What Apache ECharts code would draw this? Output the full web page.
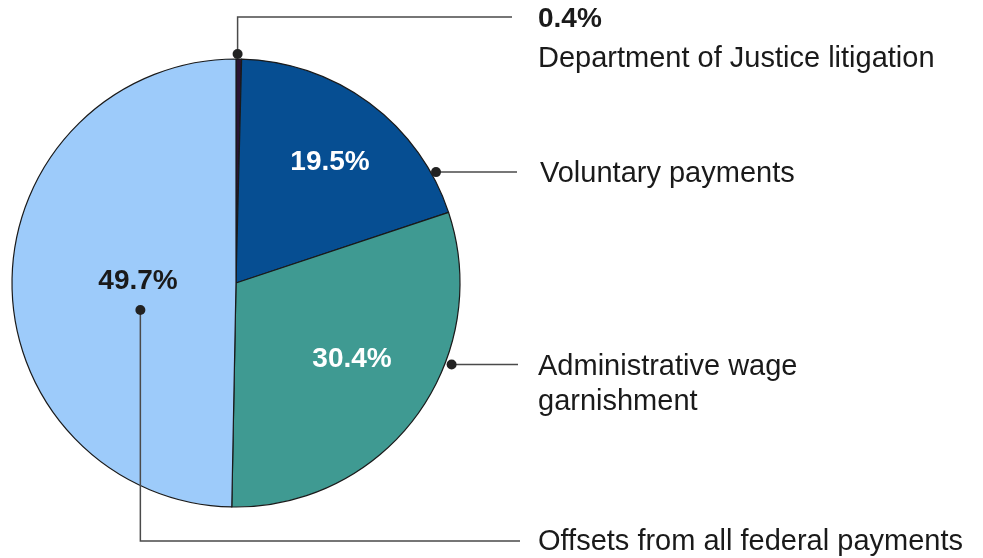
<!DOCTYPE html>
<html>
<head>
<meta charset="utf-8">
<script src="https://cdn.jsdelivr.net/npm/echarts@6/dist/echarts.min.js"></script>
<style>
html,body{margin:0;padding:0;background:#fff;}
#chart{width:983px;height:558px;}
</style>
</head>
<body>
<div id="chart"></div>
<script>
// ---- data ----
var categories = ['Department of Justice litigation', 'Voluntary payments', 'Administrative wage garnishment', 'Offsets from all federal payments'];
var values = [0.4, 19.5, 30.4, 49.7];
var labelTexts = ['Department of Justice litigation', 'Voluntary payments', 'Administrative wage\ngarnishment', 'Offsets from all federal payments'];

// ---- layout / style ----
var colors = ['#2b1433', '#064e92', '#3f9a92', '#9dcbfa'];
var innerColors = ['#fff', '#fff', '#fff', '#1a1a1a'];
var CX = 236, CY = 283, R = 224;
var FONT = 'Liberation Sans, Arial, sans-serif';
// inside percentage label centers
var innerPos = [null, [330, 162], [352, 359], [138, 281]];
// anchor dots: [angle clockwise from top (deg), distance from center]
var anchors = [[0.4, 229], [61.0, 228.7], [110.7, 230.5], [254.2, 99.4]];
// outer label: x, y center, line end x, elbow y (for bent lines)
var outer = [
  {x: 538, y: 39, endX: 512, elbowY: 17},
  {x: 540, y: 174, endX: 517},
  {x: 538, y: 384, endX: 518},
  {x: 538, y: 542, endX: 520, elbowY: 541}
];

function anchorPt(i) {
  var a = anchors[i][0] * Math.PI / 180, d = anchors[i][1];
  return [CX + d * Math.sin(a), CY - d * Math.cos(a)];
}

var data = categories.map(function (c, i) {
  return {
    name: c, value: values[i], itemStyle: {color: colors[i]},
    label: {show: i !== 0, color: innerColors[i]}
  };
});

var graphics = [];
outer.forEach(function (o, i) {
  var p = anchorPt(i);
  var pts;
  if (o.elbowY !== undefined) {
    pts = [p, [p[0], o.elbowY], [o.endX, o.elbowY]];
  } else {
    pts = [p, [o.endX, p[1]]];
  }
  graphics.push({type: 'polyline', shape: {points: pts}, style: {stroke: '#4a4a4a', lineWidth: 1.5, fill: null}, z: 10});
  graphics.push({type: 'circle', shape: {cx: p[0], cy: p[1], r: 5}, style: {fill: '#222'}, z: 11});
});

var chart = echarts.init(document.getElementById('chart'), null, {renderer: 'canvas'});
chart.setOption({
  backgroundColor: '#fff',
  animation: false,
  graphic: graphics,
  series: [
    {
      type: 'pie',
      center: [CX, CY],
      radius: R,
      startAngle: 90,
      clockwise: true,
      silent: true,
      avoidLabelOverlap: false,
      data: data,
      itemStyle: {borderColor: '#1a1a1a', borderWidth: 1.2},
      label: {
        show: true,
        position: 'inside',
        fontFamily: FONT,
        fontSize: 28,
        fontWeight: 'bold',
        formatter: function (p) { return values[p.dataIndex].toFixed(1) + '%'; }
      },
      labelLayout: function (p) {
        var pos = innerPos[p.dataIndex];
        if (!pos) return {};
        return {x: pos[0], y: pos[1], align: 'center', verticalAlign: 'middle', hideOverlap: false, moveOverlap: false};
      },
      labelLine: {show: false}
    },
    {
      type: 'pie',
      center: [CX, CY],
      radius: R,
      startAngle: 90,
      clockwise: true,
      silent: true,
      avoidLabelOverlap: false,
      z: 1,
      data: categories.map(function (c, i) { return {name: c, value: values[i], itemStyle: {color: 'rgba(0,0,0,0)', borderWidth: 0}}; }),
      label: {
        show: true,
        position: 'inside',
        fontFamily: FONT,
        fontSize: 29,
        color: '#1a1a1a',
        lineHeight: 35,
        align: 'left',
        formatter: function (p) {
          if (p.dataIndex === 0) return '{b|' + values[0].toFixed(1) + '%}\n{n|' + labelTexts[0] + '}';
          return labelTexts[p.dataIndex];
        },
        rich: {
          b: {fontFamily: FONT, fontSize: 28, fontWeight: 'bold', color: '#1a1a1a', lineHeight: 39},
          n: {fontFamily: FONT, fontSize: 29, color: '#1a1a1a', lineHeight: 39}
        }
      },
      labelLine: {show: false},
      labelLayout: function (p) {
        var o = outer[p.dataIndex];
        return {x: o.x, y: o.y, align: 'left', verticalAlign: 'middle', hideOverlap: false, moveOverlap: false};
      }
    }
  ]
});
</script>
</body>
</html>
